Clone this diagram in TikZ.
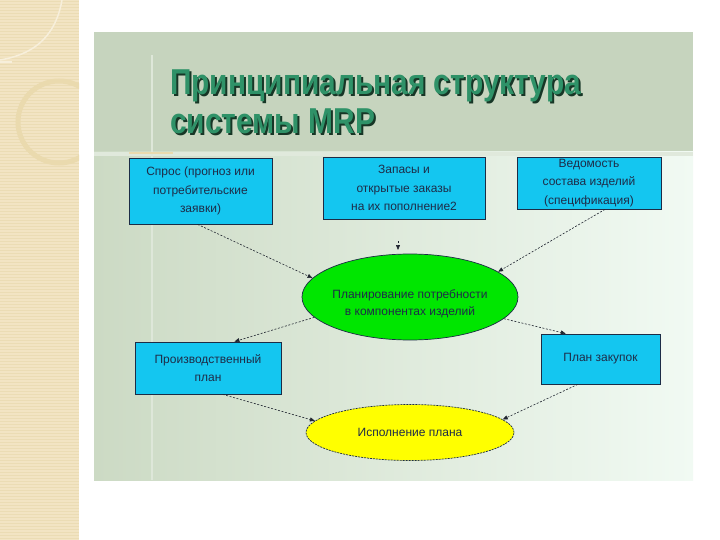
\documentclass[tikz,border=0pt]{standalone}
\usepackage{fontspec}
\setmainfont{Liberation Sans}
\usepackage{graphicx}
\usetikzlibrary{arrows.meta,shapes.geometric,calc}
\definecolor{beige}{HTML}{F2E4C3}
\definecolor{beigeline}{HTML}{EBDCB4}
\definecolor{beigedeco}{HTML}{EADAAE}
\definecolor{panelgray}{HTML}{C6D4BE}
\definecolor{lowleft}{HTML}{CCDAC4}
\definecolor{lowright}{HTML}{F1FAF3}
\definecolor{cyanbox}{HTML}{14C6F0}
\definecolor{boxline}{HTML}{1C2C46}
\definecolor{boxtext}{HTML}{1E2C48}
\definecolor{greenell}{HTML}{00E600}
\definecolor{yellowell}{HTML}{FFFF00}
\definecolor{titlegreen}{HTML}{2F9268}
\definecolor{titleshadow}{HTML}{173626}
\definecolor{arrowcol}{HTML}{202530}
\newcommand{\shadowtitle}[1]{\makebox[0pt][l]{\hspace{2pt}\raisebox{-2pt}{\color{titleshadow}\scalebox{0.83}[1]{#1}}}\color{titlegreen}\scalebox{0.83}[1]{#1}}
\tikzset{
  bluebox/.style={draw=boxline, line width=0.8pt, fill=cyanbox, align=center,
    text=boxtext, font=\fontsize{12}{18.5}\selectfont, inner sep=0pt},
  ellnode/.style={ellipse, draw=boxline, line width=0.7pt, inner sep=0pt,
    align=center, text=boxtext, font=\fontsize{12}{17}\selectfont},
  dasharrow/.style={draw=arrowcol, line width=0.6pt, dash pattern=on 2pt off 1.6pt,
    -{Triangle[length=5pt,width=4pt]}},
  titletext/.style={anchor=base west, inner sep=0pt, font=\fontsize{36}{36}\selectfont\bfseries}
}
\begin{document}
\begin{tikzpicture}[x=1pt,y=-1pt]
\useasboundingbox (0,0) rectangle (720,540);
\fill[white] (0,0) rectangle (720,540);
% left decorative strip
\fill[beige] (0,0) rectangle (79,540);
\foreach \yy in {1.5,4.5,...,540} {
  \draw[beigeline, line width=0.7pt] (0,\yy) -- (79,\yy);
}
\begin{scope}
  \clip (0,0) rectangle (79,540);
  \draw[beigedeco, line width=5pt] (59,122) circle[radius=41];
  \draw[white!40!beige, line width=1.5pt] (62,0) .. controls (55,40) and (30,55) .. (0,60);
  \draw[white!40!beige, line width=1.2pt] (0,62) -- (12,62);
\end{scope}
% title panel
\fill[panelgray] (94,32) rectangle (693,152);
% lower panel
\shade[left color=lowleft, right color=lowright] (94,152) rectangle (693,480);
\fill[lowleft!60!white] (94,152) rectangle (693,156);
\draw[white!35!lowleft, line width=1.2pt] (152,55) -- (152,480);
\draw[beigedeco, line width=1.2pt] (129,153) -- (173,153);
% title
\node[titletext] (t1) at (170,95) {\shadowtitle{Принципиальная структура}};
\node[titletext] (t2) at (170,134) {\shadowtitle{системы MRP}};
% boxes
\node[bluebox, minimum width=143pt, minimum height=66pt] (b1) at (200.5,191)
  {Спрос (прогноз или\\потребительские\\заявки)};
\node[bluebox, minimum width=162pt, minimum height=62pt] (b2) at (404,188)
  {Запасы и\\открытые заказы\\на их пополнение2};
\node[bluebox, minimum width=144pt, minimum height=52pt] (b3) at (589,183)
  {Ведомость\\состава изделий\\(спецификация)};
\node[bluebox, minimum width=146pt, minimum height=52pt] (b4) at (208,368)
  {Производственный\\план};
\node[bluebox, minimum width=119pt, minimum height=50pt] (b5) at (600.5,359)
  {План закупок};
% ellipses
\node[ellnode, fill=greenell, minimum width=216pt, minimum height=86pt] (g) at (410,297) {};
\node[align=center, text=boxtext, font=\fontsize{12}{17}\selectfont, inner sep=0pt] (gt) at (410,304)
  {Планирование потребности\\в компонентах изделий};
\node[ellnode, fill=yellowell, dash pattern=on 2pt off 1pt, minimum width=208pt, minimum height=56pt] (y) at (410,432.5)
  {Исполнение плана};
% connectors
\coordinate (a2s) at (398,241);
\coordinate (a2e) at (398,250);
\draw[dasharrow] ($(b1.south west)!0.48!(b1.south east)$) -- (g.169);
\draw[dasharrow] (a2s) -- (a2e);
\draw[dasharrow] ($(b3.south west)!0.61!(b3.south east)$) -- (g.16);
\draw[dasharrow] (g.192) -- ($(b4.north west)!0.68!(b4.north east)$);
\draw[dasharrow] (g.347) -- ($(b5.north west)!0.21!(b5.north east)$);
\draw[dasharrow] ($(b4.south west)!0.6!(b4.south east)$) -- (y.173);
\draw[dasharrow] ($(b5.south west)!0.31!(b5.south east)$) -- (y.8);
\end{tikzpicture}
\end{document}
